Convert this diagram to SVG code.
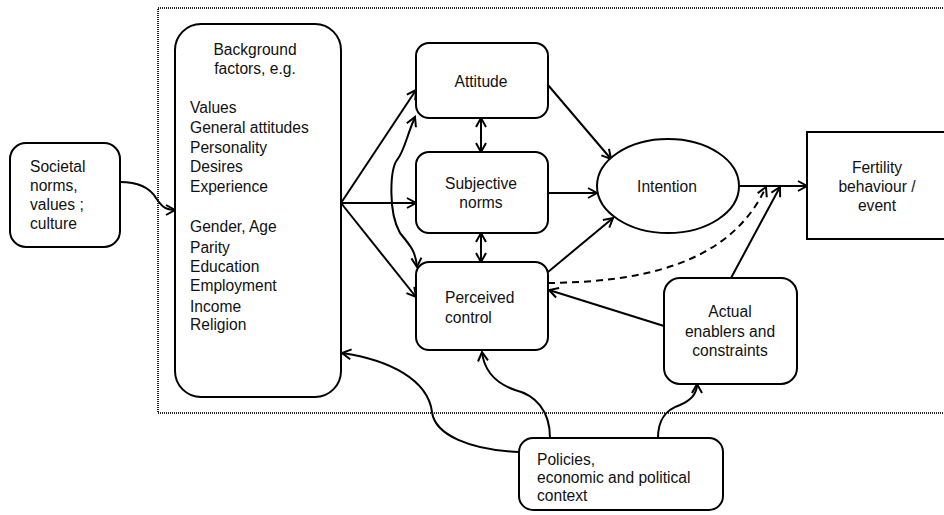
<svg xmlns="http://www.w3.org/2000/svg" width="944" height="515" viewBox="0 0 944 515">
<style>
.box{fill:#fff;stroke:#000;stroke-width:2}
.t{font-family:"Liberation Sans",Arial,sans-serif;font-size:15.6px;fill:#111}
.c{text-anchor:middle}
.ln{fill:none;stroke:#000;stroke-width:2}
.a{marker-end:url(#ah)}
.d{marker-start:url(#ah);marker-end:url(#ah)}
</style>
<defs>
<marker id="ah" markerUnits="userSpaceOnUse" markerWidth="14" markerHeight="14" refX="10" refY="6" orient="auto-start-reverse" viewBox="0 0 14 12">
<path d="M1,1 L10,6 L1,11" fill="none" stroke="#000" stroke-width="2"/>
</marker>
</defs>
<rect width="944" height="515" fill="#fff"/>
<rect x="158" y="8" width="800" height="405" fill="none" stroke="#222" stroke-width="2" stroke-dasharray="1,1"/>

<g id="connectors">
<path class="ln a" d="M120,182 C140,182 150,188 156,198 C162,207 166,210 175,210"/>
<path class="ln a" d="M341,203 L416,90"/>
<path class="ln a" d="M341,203 L416,203"/>
<path class="ln a" d="M341,203 L416,297"/>
<path class="ln d" d="M415,117 C407,135 404,152 397,160 C390,170 388,212 400,233 C410,245 416,252 417,267"/>
<path class="ln d" d="M481,118 L481,152"/>
<path class="ln d" d="M481,233 L481,262"/>
<path class="ln a" d="M548,85 L611,159"/>
<path class="ln a" d="M548,193 L597,193"/>
<path class="ln a" d="M548,272 L613,218"/>
<path class="ln a" d="M739,186 L807,186"/>
<path class="ln a" d="M548,283 C640,282 730,265 766,187" stroke-dasharray="7,5"/>
<path class="ln a" d="M731,278 L780,187"/>
<path class="ln a" d="M664,326 L549,290"/>
<path class="ln a" d="M519,452 C470,450 435,435 432,412 C428,380 390,360 342,353"/>
<path class="ln a" d="M550,438 C550,410 535,395 515,390 C495,383 484,370 482,352"/>
<path class="ln a" d="M658,438 C658,420 665,410 680,405 C692,400 697,392 697,384"/>
</g>

<g id="societal">
<rect class="box" x="10" y="143" width="110" height="104" rx="16"/>
<text class="t" x="30" y="172">Societal</text>
<text class="t" x="30" y="191">norms,</text>
<text class="t" x="30" y="210">values ;</text>
<text class="t" x="30" y="229">culture</text>
</g>

<g id="background">
<rect class="box" x="175" y="24" width="166" height="373" rx="26"/>
<text class="t c" x="255" y="55">Background</text>
<text class="t c" x="255" y="74">factors, e.g.</text>
<text class="t" x="190" y="113">Values</text>
<text class="t" x="190" y="133">General attitudes</text>
<text class="t" x="190" y="153">Personality</text>
<text class="t" x="190" y="172">Desires</text>
<text class="t" x="190" y="192">Experience</text>
<text class="t" x="190" y="232">Gender, Age</text>
<text class="t" x="190" y="253">Parity</text>
<text class="t" x="190" y="272">Education</text>
<text class="t" x="190" y="291">Employment</text>
<text class="t" x="190" y="312">Income</text>
<text class="t" x="190" y="330">Religion</text>
</g>

<g id="attitude">
<rect class="box" x="416" y="43" width="132" height="75" rx="13"/>
<text class="t c" x="481" y="87">Attitude</text>
</g>

<g id="subjective">
<rect class="box" x="416" y="152" width="132" height="81" rx="13"/>
<text class="t c" x="481" y="189">Subjective</text>
<text class="t c" x="481" y="208">norms</text>
</g>

<g id="perceived">
<rect class="box" x="416" y="262" width="132" height="88" rx="13"/>
<text class="t" x="445" y="303">Perceived</text>
<text class="t" x="445" y="323">control</text>
</g>

<g id="intention">
<ellipse class="box" cx="668" cy="186" rx="71" ry="47"/>
<text class="t c" x="667" y="192">Intention</text>
</g>

<g id="fertility">
<rect class="box" x="807" y="132" width="150" height="107"/>
<text class="t c" x="877" y="173">Fertility</text>
<text class="t c" x="877" y="192">behaviour /</text>
<text class="t c" x="877" y="211">event</text>
</g>

<g id="enablers">
<rect class="box" x="664" y="278" width="133" height="106" rx="16"/>
<text class="t c" x="730" y="317">Actual</text>
<text class="t c" x="730" y="337">enablers and</text>
<text class="t c" x="730" y="356">constraints</text>
</g>

<g id="policies">
<rect class="box" x="519" y="438" width="204" height="72" rx="14"/>
<text class="t" x="537" y="465">Policies,</text>
<text class="t" x="537" y="483">economic and political</text>
<text class="t" x="537" y="501">context</text>
</g>
</svg>
